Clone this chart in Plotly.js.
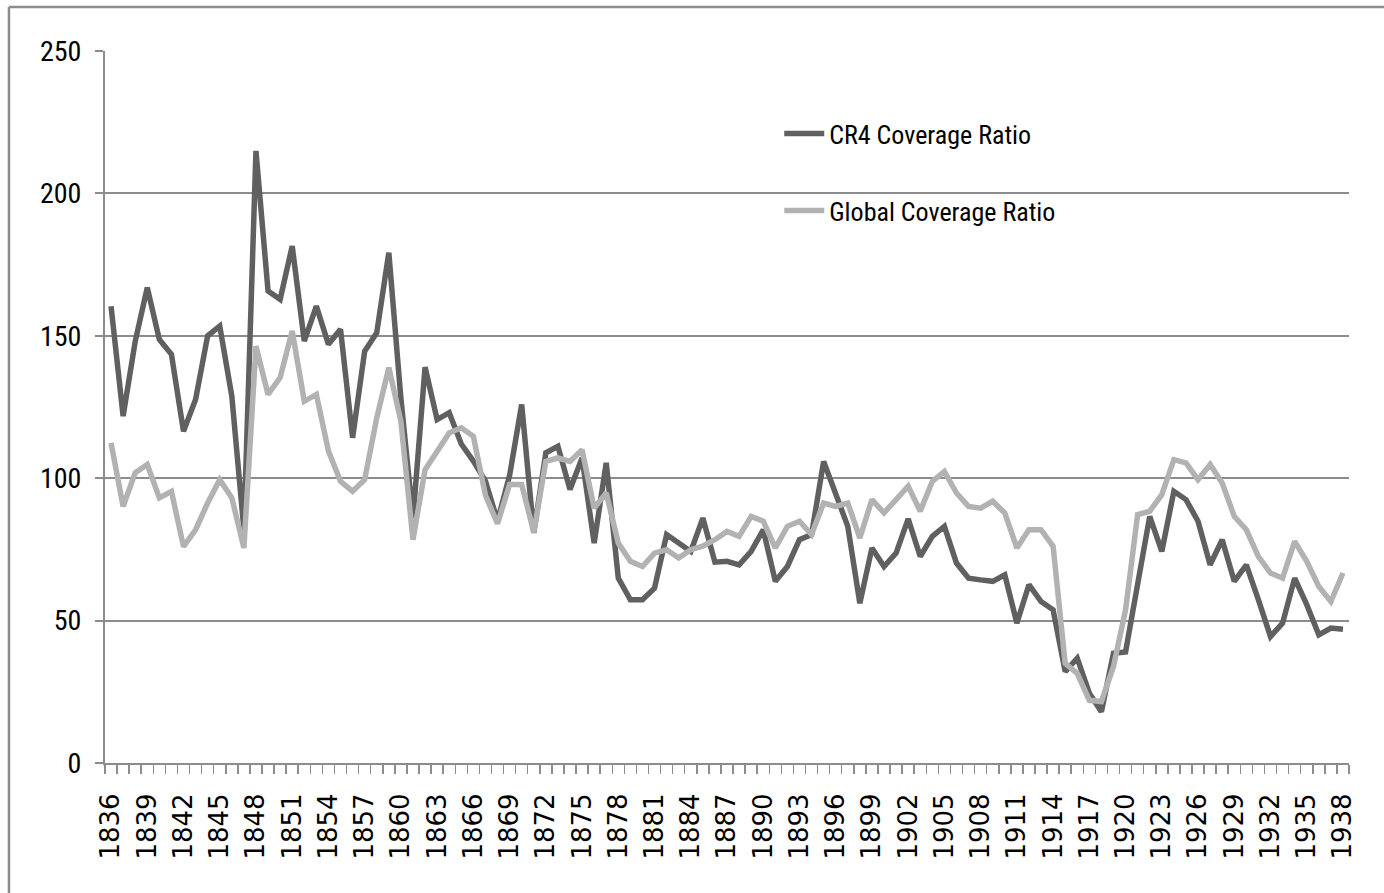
<!DOCTYPE html>
<html>
<head>
<meta charset="utf-8">
<script src="https://cdn.plot.ly/plotly-3.0.1.min.js"></script>
<style>
html,body{margin:0;padding:0;background:#fff;overflow:hidden;}
#chart{width:1384px;height:893px;}
</style>
</head>
<body>
<div id="chart"></div>
<script>
const years = [1836,1837,1838,1839,1840,1841,1842,1843,1844,1845,1846,1847,1848,1849,1850,1851,1852,1853,1854,1855,1856,1857,1858,1859,1860,1861,1862,1863,1864,1865,1866,1867,1868,1869,1870,1871,1872,1873,1874,1875,1876,1877,1878,1879,1880,1881,1882,1883,1884,1885,1886,1887,1888,1889,1890,1891,1892,1893,1894,1895,1896,1897,1898,1899,1900,1901,1902,1903,1904,1905,1906,1907,1908,1909,1910,1911,1912,1913,1914,1915,1916,1917,1918,1919,1920,1921,1922,1923,1924,1925,1926,1927,1928,1929,1930,1931,1932,1933,1934,1935,1936,1937,1938];

const cr4Coverage = [160.4,121.8,148,166.9,148.7,143.5,116.5,127.6,150,153.4,128.8,82,214.9,165.7,162.8,181.5,148.1,160.4,147,152.3,114.2,144.6,151.1,179.2,128,86,139,120.6,123,112,106,99,85,101,125.9,80.8,108.9,111.2,96,107.1,77.2,105.4,64.9,57.3,57.3,61.4,80.2,77.2,74.3,86,70.5,70.8,69.6,74.3,81.9,63.8,69,78.4,80.2,105.9,94.8,83.1,56.1,75.5,69,73.7,85.7,72.5,79.6,83.1,70.2,64.9,64.3,63.8,66.1,49.1,62.6,56.7,53.8,32.1,36.8,24.5,18,38.5,39,62,86.6,74.3,95.4,92.5,84.9,69.6,78.4,63.8,69.6,57.3,44.4,49.1,64.9,55.6,45,47.4,47];

const globalCoverage = [112.4,90.1,101.9,104.8,93.1,95.4,76,81.9,91.3,99.5,93.1,75.5,146.4,129.4,135.3,151.7,127,129.4,109.5,98.9,95.4,99.5,121.2,138.8,120,78.4,103,109.5,115.9,117.7,114.7,94,84,97.8,97.8,81,105.9,107.1,105.9,110,89.5,94.8,77.2,70.8,69,73.7,74.9,72,74.9,76.1,78.4,81.3,79.6,86.6,84.9,75.5,83.1,84.9,80.2,91.3,90.1,91.3,79,92.5,87.8,92.5,97.2,88.4,98.9,102.4,94.8,90.1,89.5,91.9,87.8,75.5,81.9,81.9,76.1,35,31.5,22,21.6,33.9,53.8,87.2,88.4,94.2,106.5,105.4,99.5,104.8,98.3,86.6,81.9,72.5,66.7,64.9,77.8,70.8,62,56.7,66.7];

const seriesNames = ["CR4 Coverage Ratio", "Global Coverage Ratio"];
const yTicks = [0,50,100,150,200,250];

const narrow = '"Liberation Sans Narrow", "Arial Narrow", "Roboto Condensed", "DejaVu Sans Condensed", sans-serif';
const gridCol = '#8c8c8c';

const traces = [
  {x: years, y: cr4Coverage, name: seriesNames[0], type: 'scatter', mode: 'lines',
   line: {color: '#606060', width: 5.5}, legend: 'legend'},
  {x: years, y: globalCoverage, name: seriesNames[1], type: 'scatter', mode: 'lines',
   line: {color: '#b2b2b2', width: 5.5}, legend: 'legend2'}
];

const layout = {
  width: 1384, height: 893,
  margin: {l: 105, r: 35, t: 51, b: 130},
  paper_bgcolor: '#fff', plot_bgcolor: '#fff',
  showlegend: true,
  xaxis: {
    range: [1835.5, 1938.5], tickmode: 'linear', tick0: 1836, dtick: 3,
    ticks: '', tickangle: -90, automargin: false,
    showgrid: false, zeroline: false,
    showline: true, linecolor: gridCol, linewidth: 2,
    tickfont: {family: 'DejaVu Sans', size: 26, color: '#000'},
    ticklabelstandoff: 18,
    minor: {tick0: 1835.5, dtick: 1, ticks: 'outside', ticklen: 9, tickwidth: 1.5, tickcolor: gridCol, showgrid: false}
  },
  yaxis: {
    range: [0, 250], tickmode: 'array', tickvals: yTicks, ticktext: yTicks.map(String),
    ticks: 'outside', ticklen: 8, tickwidth: 2, tickcolor: gridCol,
    showgrid: true, gridcolor: gridCol, gridwidth: 2, zeroline: false,
    showline: true, linecolor: gridCol, linewidth: 2,
    tickfont: {family: narrow, size: 28, color: '#000'},
    ticklabelstandoff: 8
  },
  legend: {
    x: 0.542, y: 0.884, xanchor: 'left', yanchor: 'middle',
    bgcolor: 'rgba(0,0,0,0)', borderwidth: 0,
    font: {family: narrow, size: 26, color: '#000'}, itemwidth: 40
  },
  legend2: {
    x: 0.542, y: 0.776, xanchor: 'left', yanchor: 'middle',
    bgcolor: 'rgba(0,0,0,0)', borderwidth: 0,
    font: {family: narrow, size: 26, color: '#000'}, itemwidth: 40
  },
  shapes: [
    {type: 'line', xref: 'paper', yref: 'paper', x0: -0.0772, x1: 1.1, y0: 1.0618, y1: 1.0618,
     line: {color: gridCol, width: 2.5}},
    {type: 'line', xref: 'paper', yref: 'paper', x0: -0.0772, x1: -0.0772, y0: 1.0618, y1: -0.3,
     line: {color: gridCol, width: 2.5}}
  ]
};

Plotly.newPlot('chart', traces, layout, {displayModeBar: false, staticPlot: true});
</script>
</body>
</html>
